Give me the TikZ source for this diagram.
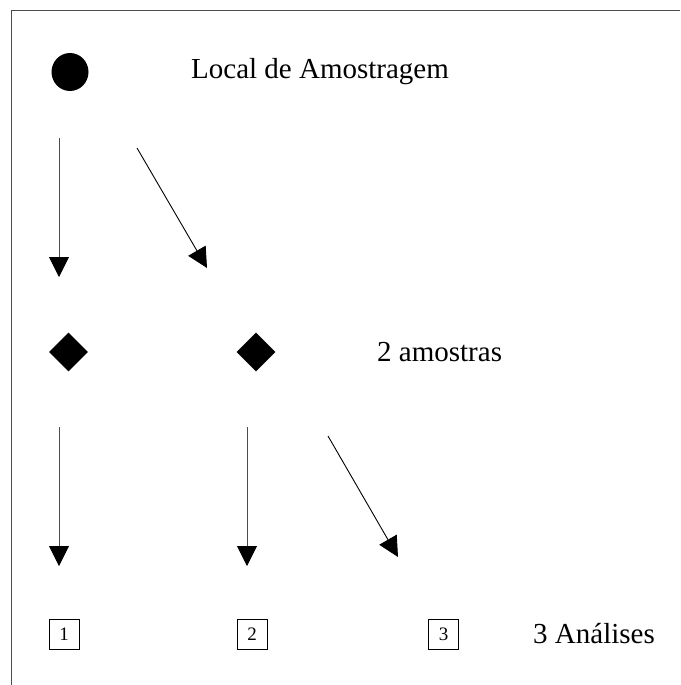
\documentclass[tikz,border=0pt]{standalone}
\usepackage{fontspec}
\setmainfont{Liberation Serif}
\usetikzlibrary{arrows.meta,shapes.geometric}
\begin{document}
\begin{tikzpicture}[x=1pt,y=-1pt,
  lbl/.style={font=\fontsize{29}{34}\selectfont, inner sep=0pt, anchor=west},
  numbox/.style={draw, line width=0.9pt, minimum width=30pt, minimum height=30pt, inner sep=0pt, font=\fontsize{19}{22}\selectfont},
  samp/.style={diamond, fill=black, minimum width=39pt, minimum height=39pt, inner sep=0pt},
  flow/.style={line width=0.9pt, -{Triangle[length=20pt,width=20pt,color=black,fill=black]}},
  vflow/.style={flow, draw=black!70}]
\useasboundingbox (0,0) rectangle (680,685);
\draw[line width=1pt, black!70] (11,685) -- (11,11) -- (680,11);
% top
\node[ellipse, fill=black, minimum width=37pt, minimum height=38pt, inner sep=0pt] (site) at (70,72) {};
\node[lbl] (tsite) at (191,72) {Local de Amostragem};
% samples
\node[samp] (s1) at (68.5,352) {};
\node[samp] (s2) at (256,352) {};
\node[lbl] (tsamp) at (377,352) {2 amostras};
% analyses
\node[numbox] (a1) at (64,634) {1};
\node[numbox] (a2) at (252,634) {2};
\node[numbox] (a3) at (443.5,634) {3};
\node[lbl] (tan) at (533,634) {3 Análises};
% arrow end points
\coordinate (p1s) at (59,138);  \coordinate (p1e) at (59,277);
\coordinate (p2s) at (137,148); \coordinate (p2e) at (207,268);
\coordinate (q1s) at (59,427);  \coordinate (q1e) at (59,566);
\coordinate (q2s) at (247,427); \coordinate (q2e) at (247,566);
\coordinate (q3s) at (328,436); \coordinate (q3e) at (398,557);
\draw[vflow] (p1s) -- (p1e);
\draw[flow] (p2s) -- (p2e);
\draw[vflow] (q1s) -- (q1e);
\draw[vflow] (q2s) -- (q2e);
\draw[flow] (q3s) -- (q3e);
\end{tikzpicture}
\end{document}
